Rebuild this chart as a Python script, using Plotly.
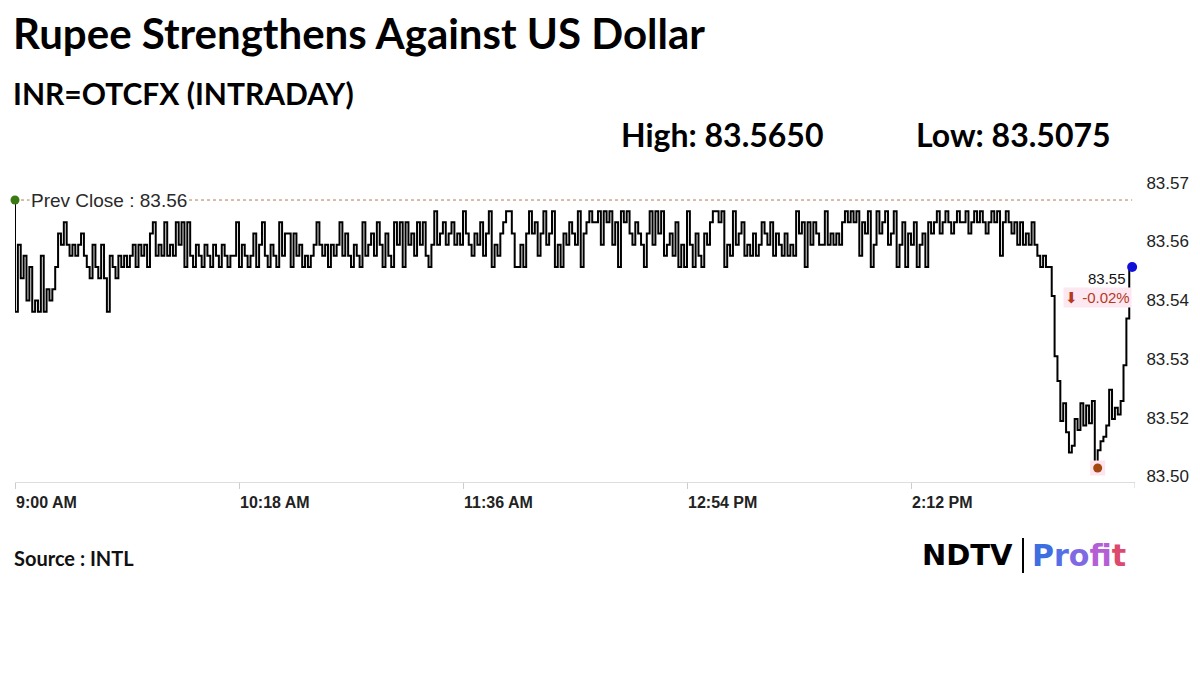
import pandas as pd
import plotly.graph_objects as go

# ---------------- data ----------------
session_date = "2024-05-10"
start_time = "09:00"
# one quote per minute, 9:00 AM onwards
prices = [
    83.5675, 83.5425, 83.5575, 83.55, 83.555, 83.545, 83.5525, 83.5425, 83.545, 83.5425,
    83.555, 83.5425, 83.5475, 83.545, 83.5475, 83.5525, 83.56, 83.5575, 83.5625, 83.5575,
    83.555, 83.5575, 83.555, 83.5575, 83.56, 83.555, 83.5525, 83.55, 83.5575, 83.5525,
    83.55, 83.5575, 83.55, 83.5425, 83.555, 83.5525, 83.55, 83.555, 83.5525, 83.555,
    83.5525, 83.555, 83.5575, 83.5525, 83.5575, 83.555, 83.5575, 83.5525, 83.56, 83.5625,
    83.555, 83.5575, 83.555, 83.5625, 83.555, 83.5575, 83.555, 83.5625, 83.5575, 83.5625,
    83.5525, 83.5625, 83.555, 83.5525, 83.5575, 83.555, 83.5525, 83.5575, 83.555, 83.5525,
    83.5575, 83.555, 83.5525, 83.5575, 83.555, 83.5525, 83.555, 83.555, 83.5625, 83.5525,
    83.5575, 83.555, 83.5525, 83.555, 83.56, 83.5525, 83.5575, 83.5625, 83.555, 83.5525,
    83.5575, 83.555, 83.5525, 83.5625, 83.555, 83.56, 83.56, 83.5525, 83.56, 83.555,
    83.5575, 83.5525, 83.555, 83.5525, 83.555, 83.5575, 83.5625, 83.5575, 83.555, 83.5575,
    83.5525, 83.5575, 83.555, 83.5575, 83.5625, 83.555, 83.56, 83.555, 83.5525, 83.5575,
    83.555, 83.5525, 83.5625, 83.555, 83.5575, 83.56, 83.555, 83.5625, 83.5575, 83.5525,
    83.56, 83.555, 83.5525, 83.5625, 83.5575, 83.5625, 83.5525, 83.5625, 83.5575, 83.56,
    83.555, 83.5625, 83.5575, 83.5625, 83.555, 83.5525, 83.5575, 83.565, 83.5575, 83.56,
    83.5625, 83.5575, 83.56, 83.5625, 83.5575, 83.56, 83.5575, 83.565, 83.56, 83.5575,
    83.555, 83.56, 83.5575, 83.5625, 83.555, 83.56, 83.565, 83.5525, 83.5575, 83.555,
    83.56, 83.5625, 83.565, 83.565, 83.56, 83.5525, 83.5525, 83.5575, 83.5525, 83.56,
    83.565, 83.56, 83.5625, 83.555, 83.56, 83.565, 83.5575, 83.56, 83.565, 83.5525,
    83.5575, 83.5525, 83.56, 83.5575, 83.5625, 83.56, 83.5575, 83.565, 83.5525, 83.56,
    83.5625, 83.565, 83.5625, 83.5625, 83.565, 83.5575, 83.565, 83.5625, 83.565, 83.5575,
    83.5625, 83.5525, 83.565, 83.5625, 83.565, 83.56, 83.5575, 83.5625, 83.56, 83.5575,
    83.5525, 83.56, 83.565, 83.5575, 83.565, 83.56, 83.565, 83.555, 83.5575, 83.56,
    83.555, 83.5625, 83.5525, 83.5575, 83.5525, 83.565, 83.5575, 83.5525, 83.56, 83.555,
    83.5525, 83.56, 83.5575, 83.5625, 83.565, 83.565, 83.5625, 83.565, 83.5525, 83.5575,
    83.555, 83.565, 83.5575, 83.56, 83.5625, 83.555, 83.5575, 83.555, 83.56, 83.555,
    83.5575, 83.5625, 83.56, 83.5575, 83.5625, 83.555, 83.56, 83.5575, 83.555, 83.56,
    83.555, 83.5575, 83.555, 83.565, 83.56, 83.5625, 83.5525, 83.5625, 83.5575, 83.5625,
    83.56, 83.5575, 83.5575, 83.565, 83.5575, 83.56, 83.5575, 83.56, 83.5575, 83.5625,
    83.565, 83.5625, 83.565, 83.5625, 83.565, 83.555, 83.5625, 83.56, 83.565, 83.5525,
    83.5575, 83.565, 83.56, 83.5625, 83.565, 83.5575, 83.56, 83.565, 83.5525, 83.5575,
    83.5625, 83.5525, 83.56, 83.5575, 83.5625, 83.5525, 83.5575, 83.56, 83.5525, 83.5625,
    83.56, 83.5625, 83.565, 83.56, 83.5625, 83.565, 83.5625, 83.56, 83.5625, 83.565,
    83.5625, 83.5625, 83.565, 83.56, 83.5625, 83.565, 83.5625, 83.565, 83.5625, 83.56,
    83.5625, 83.565, 83.5625, 83.565, 83.555, 83.5625, 83.565, 83.5625, 83.56, 83.5625,
    83.5575, 83.5625, 83.5575, 83.56, 83.5575, 83.5625, 83.5575, 83.555, 83.5525, 83.555,
    83.5525, 83.5525, 83.546, 83.5325, 83.527, 83.518, 83.522, 83.5155, 83.511, 83.5125,
    83.5185, 83.516, 83.522, 83.517, 83.5215, 83.5175, 83.5225, 83.5075, 83.5115, 83.5135,
    83.5145, 83.517, 83.525, 83.5185, 83.521, 83.5195, 83.5225, 83.5305, 83.541, 83.5525,
]
prev_close = 83.5675
prev_close_label = "83.56"
day_high = 83.5650
day_low = 83.5075

x_tick_times = ["09:00", "10:18", "11:36", "12:54", "14:12"]
x_tick_labels = ["9:00 AM", "10:18 AM", "11:36 AM", "12:54 PM", "2:12 PM"]
session_end = "15:30"
y_tick_values = [83.5057, 83.5187, 83.5319, 83.5451, 83.5583, 83.5713]
y_tick_labels = ["83.50", "83.52", "83.53", "83.54", "83.56", "83.57"]
y_range = [83.50437, 83.57422]

title_text = "Rupee Strengthens Against US Dollar"
subtitle_text = "INR=OTCFX (INTRADAY)"
source_text = "Source : INTL"

# ---------------- layout helpers (reference pixel coords) ----------------
PAGE_OFF = 8  # default body margin of the html page
W, H = 1200 - PAGE_OFF, 674 - PAGE_OFF
PL, PR, PT, PB = 15, 1135, 170, 482  # plot area in window pixels
ML, MR = PL - PAGE_OFF, 1200 - PR
MT, MB = PT - PAGE_OFF, 674 - PB
PW, PH = PR - PL, PB - PT


def px(x):
    return (x - PL) / PW


def py(y):
    return (PB - y) / PH


HEAD = "Lato, Liberation Sans, sans-serif"
ARIAL = "Liberation Sans, Arial, sans-serif"

times = pd.date_range(f"{session_date} {start_time}", periods=len(prices), freq="1min")
tick_vals = [pd.Timestamp(f"{session_date} {t}") for t in x_tick_times]
t_end = pd.Timestamp(f"{session_date} {session_end}")
low_idx = min(range(len(prices)), key=lambda i: prices[i])
last = prices[-1]
chg = (last - prev_close) / prev_close * 100

fig = go.Figure()

fig.add_trace(go.Scatter(
    x=times, y=prices, mode="lines",
    line=dict(color="#000000", width=2, shape="vh"),
    hoverinfo="skip", showlegend=False,
))
# pink highlight behind low point
fig.add_trace(go.Scatter(
    x=[times[low_idx]], y=[prices[low_idx]], mode="markers",
    marker=dict(symbol="square", size=15, color="#fde4ef"),
    showlegend=False, hoverinfo="skip", cliponaxis=False,
))
fig.add_trace(go.Scatter(
    x=[times[low_idx]], y=[prices[low_idx]], mode="markers",
    marker=dict(size=9, color="#a2470f"), showlegend=False, hoverinfo="skip",
    cliponaxis=False,
))
fig.add_trace(go.Scatter(
    x=[times[0]], y=[prices[0]], mode="markers",
    marker=dict(size=9, color="#3b7a12"), showlegend=False, hoverinfo="skip",
    cliponaxis=False,
))
fig.add_trace(go.Scatter(
    x=[times[-1]], y=[prices[-1]], mode="markers",
    marker=dict(size=10, color="#1010d8"), showlegend=False, hoverinfo="skip",
    cliponaxis=False,
))

# previous close dotted line
fig.add_shape(type="line", xref="x", yref="y",
              x0=times[0], x1=times[-1], y0=prev_close, y1=prev_close,
              line=dict(color="#b07a55", width=1, dash="dot"), layer="below")
# final (unlabelled) x tick at session end
fig.add_shape(type="line", xref="x", yref="paper", x0=t_end, x1=t_end,
              y0=0, y1=-6 / PH, line=dict(color="#cccccc", width=1))

ann = []
ann.append(dict(xref="paper", yref="y", x=px(29), y=prev_close,
                text=f"Prev Close : {prev_close_label}", showarrow=False,
                xanchor="left", yanchor="middle", bgcolor="#ffffff", borderpad=1,
                font=dict(family=ARIAL, size=19, color="#2a2a2a")))
ann.append(dict(xref="x", yref="y", x=times[-1], y=last,
                text=f"{last:.2f}", showarrow=False, xanchor="right", yanchor="middle",
                xshift=-4, yshift=-11, font=dict(family=ARIAL, size=15, color="#111111")))
ann.append(dict(xref="x", yref="y", x=times[-1], y=last,
                text=f"⬇ {chg:.2f}%", showarrow=False, xanchor="right", yanchor="middle",
                xshift=0, yshift=-30, bgcolor="#fde8f1", borderpad=1,
                font=dict(family=ARIAL, size=15, color="#b5391e")))

# header texts
ann.append(dict(xref="paper", yref="paper", x=px(11), y=py(33), text=f"<b>{title_text}</b>",
                showarrow=False, xanchor="left", yanchor="middle",
                font=dict(family=HEAD, size=42, color="#000000")))
ann.append(dict(xref="paper", yref="paper", x=px(11), y=py(93), text=f"<b>{subtitle_text}</b>",
                showarrow=False, xanchor="left", yanchor="middle",
                font=dict(family=HEAD, size=30, color="#000000")))
ann.append(dict(xref="paper", yref="paper", x=px(619), y=py(135), text=f"<b>High: {day_high:.4f}</b>",
                showarrow=False, xanchor="left", yanchor="middle",
                font=dict(family=HEAD, size=32, color="#000000")))
ann.append(dict(xref="paper", yref="paper", x=px(914), y=py(135), text=f"<b>Low: {day_low:.4f}</b>",
                showarrow=False, xanchor="left", yanchor="middle",
                font=dict(family=HEAD, size=32, color="#000000")))
ann.append(dict(xref="paper", yref="paper", x=px(12), y=py(558), text=f"<b>{source_text}</b>",
                showarrow=False, xanchor="left", yanchor="middle",
                font=dict(family=HEAD, size=20, color="#111111")))
# logo
ann.append(dict(xref="paper", yref="paper", x=px(920), y=py(555), text="<b>NDTV</b>",
                showarrow=False, xanchor="left", yanchor="middle",
                font=dict(family="DejaVu Sans", size=29, color="#000000")))
profit_colors = ["#3d6fe0", "#5570e6", "#7f6ae4", "#b45fd6", "#d24fa8", "#dc4a6e"]
profit_html = "".join(f'<span style="color:{c}">{ch}</span>' for ch, c in zip("Profit", profit_colors))
ann.append(dict(xref="paper", yref="paper", x=px(1030), y=py(555), text=f"<b>{profit_html}</b>",
                showarrow=False, xanchor="left", yanchor="middle",
                font=dict(family="DejaVu Sans", size=30, color="#5570e6")))
fig.add_shape(type="line", xref="paper", yref="paper", x0=px(1023), x1=px(1023),
              y0=py(538), y1=py(573), line=dict(color="#000000", width=2))

fig.update_layout(
    width=W, height=H,
    margin=dict(l=ML, r=MR, t=MT, b=MB, pad=0),
    paper_bgcolor="#ffffff", plot_bgcolor="#ffffff",
    showlegend=False,
    annotations=ann,
    xaxis=dict(
        type="date",
        range=[tick_vals[0], t_end],
        tickmode="array", tickvals=tick_vals, ticktext=x_tick_labels,
        ticks="outside", ticklen=6, tickcolor="#cccccc", tickwidth=1,
        ticklabelposition="outside right", ticklabelstandoff=6,
        showline=True, linecolor="#dddddd", linewidth=1,
        showgrid=False, zeroline=False,
        tickfont=dict(family=ARIAL, size=16, color="#222222", weight="bold"),
    ),
    yaxis=dict(
        side="right", range=y_range,
        tickmode="array", tickvals=y_tick_values, ticktext=y_tick_labels,
        ticks="outside", ticklen=7, tickcolor="rgba(0,0,0,0)",
        showline=False, showgrid=False, zeroline=False,
        tickfont=dict(family=ARIAL, size=17, color="#222222"),
    ),
)

fig.write_html("out.html")
